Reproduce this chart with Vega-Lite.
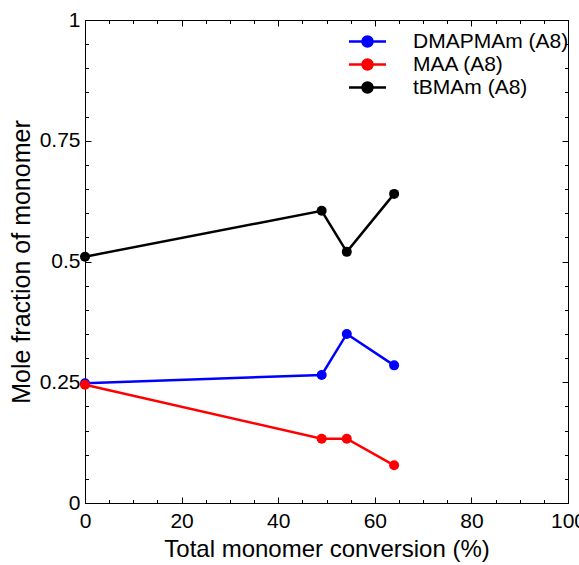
{
  "$schema": "https://vega.github.io/schema/vega-lite/v6.json",
  "autosize": "none",
  "width": 483,
  "height": 483,
  "padding": {"left": 85, "top": 20, "right": 11, "bottom": 62},
  "config": {
    "font": "Liberation Sans",
    "view": {"stroke": "#000000", "strokeWidth": 1},
    "axis": {"grid": false, "domainColor": "#000000", "tickColor": "#000000", "labelColor": "#000000", "titleColor": "#000000", "labelFont": "Liberation Sans", "titleFont": "Liberation Sans", "labelFontSize": 21, "titleFontSize": 24, "titleFontWeight": "normal"}
  },
  "data": {
    "values": [
      {"series": "DMAPMAm (A8)", "conv": 0, "frac": 0.248},
      {"series": "DMAPMAm (A8)", "conv": 49, "frac": 0.265},
      {"series": "DMAPMAm (A8)", "conv": 54.2, "frac": 0.35},
      {"series": "DMAPMAm (A8)", "conv": 64, "frac": 0.285},
      {"series": "MAA (A8)", "conv": 0, "frac": 0.245},
      {"series": "MAA (A8)", "conv": 49, "frac": 0.133},
      {"series": "MAA (A8)", "conv": 54.2, "frac": 0.133},
      {"series": "MAA (A8)", "conv": 64, "frac": 0.078},
      {"series": "tBMAm (A8)", "conv": 0, "frac": 0.51},
      {"series": "tBMAm (A8)", "conv": 49, "frac": 0.605},
      {"series": "tBMAm (A8)", "conv": 54.2, "frac": 0.52},
      {"series": "tBMAm (A8)", "conv": 64, "frac": 0.64}
    ]
  },
  "layer": [
    {
      "mark": {"type": "line", "strokeWidth": 2.5},
      "encoding": {
        "x": {
          "field": "conv", "type": "quantitative",
          "scale": {"domain": [0, 100], "nice": false, "zero": false},
          "title": "Total monomer conversion (%)",
          "axis": {
            "orient": "bottom",
            "values": [0,5,10,15,20,25,30,35,40,45,50,55,60,65,70,75,80,85,90,95,100],
            "labelExpr": "datum.value % 20 === 0 ? '' + datum.value : ''",
            "tickSize": {"condition": {"test": "datum.value % 20 === 0", "value": -6}, "value": -3.5},
            "labelFlush": false,
            "labelPadding": 13,
            "titlePadding": 4,
            "labelOverlap": false
          }
        },
        "y": {
          "field": "frac", "type": "quantitative",
          "scale": {"domain": [0, 1], "nice": false, "zero": false},
          "title": "Mole fraction of monomer",
          "axis": {
            "orient": "left",
            "values": [0,0.05,0.1,0.15,0.2,0.25,0.3,0.35,0.4,0.45,0.5,0.55,0.6,0.65,0.7,0.75,0.8,0.85,0.9,0.95,1],
            "labelExpr": "indexof([0,0.25,0.5,0.75,1], datum.value) >= 0 ? '' + datum.value : ''",
            "tickSize": {"condition": {"test": "indexof([0,0.25,0.5,0.75,1], datum.value) >= 0", "value": -6}, "value": -3.5},
            "labelFlush": false,
            "labelPadding": 11,
            "titlePadding": 5,
            "titleFontSize": 25,
            "labelOverlap": false
          }
        },
        "color": {
          "field": "series", "type": "nominal",
          "scale": {"domain": ["DMAPMAm (A8)", "MAA (A8)", "tBMAm (A8)"], "range": ["#0000ff", "#ff0000", "#000000"]},
          "legend": {
            "orient": "none",
            "legendX": 272,
            "legendY": 11,
            "title": null,
            "symbolType": "M-3.7,0H3.7M1,0A1,1 0 1,1 -1,0A1,1 0 1,1 1,0Z",
            "symbolSize": 100,
            "symbolStrokeWidth": 2.5,
            "labelFontSize": 21,
            "labelFont": "Liberation Sans",
            "labelColor": "#000000",
            "labelLimit": 300,
            "labelOffset": 35,
            "rowPadding": 1,
            "encode": {"symbols": {"update": {"fill": {"scale": "color", "field": "value"}}}}
          }
        }
      }
    },
    {
      "mark": {"type": "point", "filled": true, "size": 100, "opacity": 1},
      "encoding": {
        "x": {"field": "conv", "type": "quantitative", "axis": null},
        "y": {"field": "frac", "type": "quantitative", "axis": null},
        "color": {"field": "series", "type": "nominal", "legend": null}
      }
    },
    {
      "mark": {"type": "point", "opacity": 0},
      "encoding": {
        "x": {
          "field": "conv", "type": "quantitative",
          "axis": {
            "orient": "top", "labels": false, "title": null, "domain": false,
            "values": [0,5,10,15,20,25,30,35,40,45,50,55,60,65,70,75,80,85,90,95,100],
            "tickSize": {"condition": {"test": "datum.value % 20 === 0", "value": -6}, "value": -3.5}
          }
        },
        "y": {
          "field": "frac", "type": "quantitative",
          "axis": {
            "orient": "right", "labels": false, "title": null, "domain": false,
            "values": [0,0.05,0.1,0.15,0.2,0.25,0.3,0.35,0.4,0.45,0.5,0.55,0.6,0.65,0.7,0.75,0.8,0.85,0.9,0.95,1],
            "tickSize": {"condition": {"test": "indexof([0,0.25,0.5,0.75,1], datum.value) >= 0", "value": -6}, "value": -3.5}
          }
        }
      }
    }
  ],
  "resolve": {"axis": {"x": "independent", "y": "independent"}}
}
